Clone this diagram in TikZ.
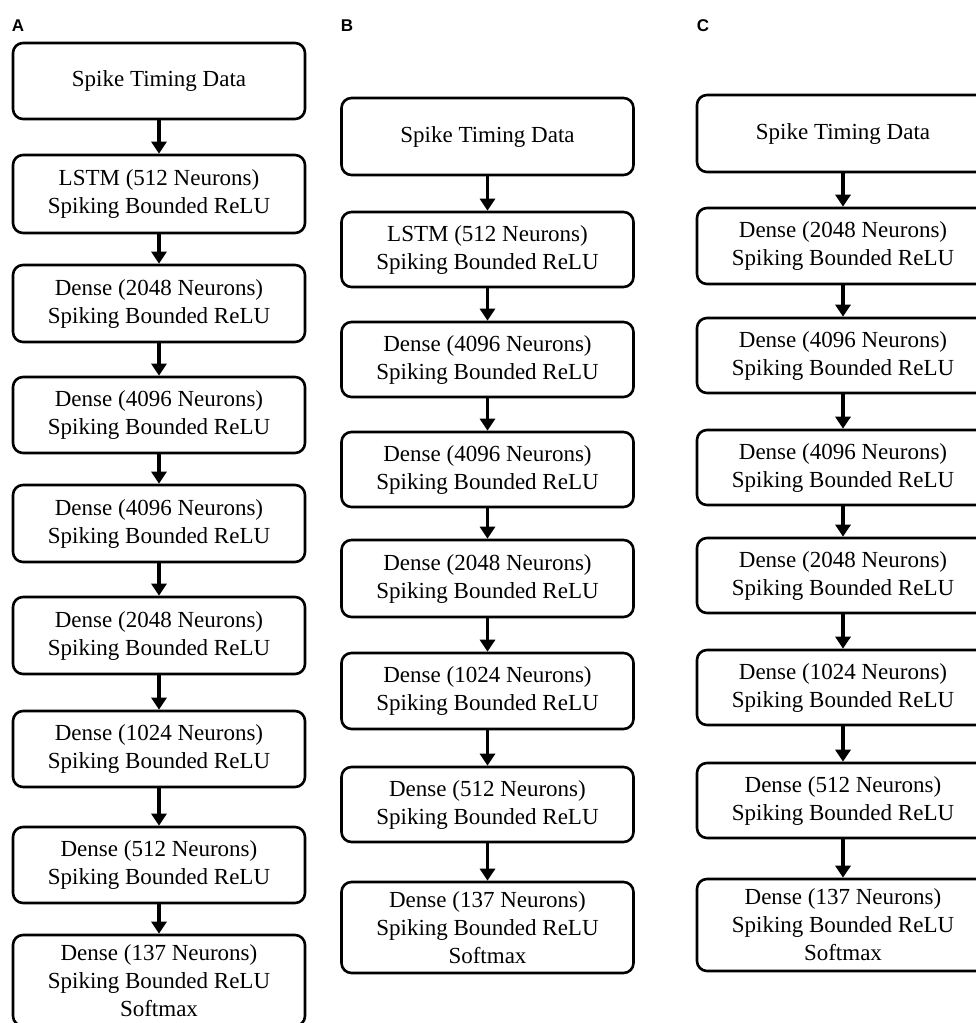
\documentclass[tikz,border=0pt]{standalone}
\usepackage{fontspec}
\setmainfont{Liberation Serif}
\newfontfamily\labelfont{Liberation Sans}
\usetikzlibrary{arrows.meta}
\tikzset{
  layer/.style={draw, line width=2.6pt, rounded corners=10pt, minimum width=292pt,
    align=center, inner sep=0pt, font=\fontsize{23}{28}\selectfont, fill=white},
  flow/.style={line width=3.4pt, -{Triangle[width=15pt,length=12pt]}},
  panel/.style={font=\labelfont\bfseries\fontsize{17}{20}\selectfont}
}
\begin{document}
\begin{tikzpicture}[x=1pt,y=-1pt]
\useasboundingbox (0,0) rectangle (976,1023);
% panel labels
\node[panel] (la) at (18,26) {A};
\node[panel] (lb) at (347,26) {B};
\node[panel] (lc) at (703,26) {C};
% column A
\node[layer, minimum height=76pt] (a1) at (159,81) {Spike Timing Data};
\node[layer, minimum height=78pt] (a2) at (159,194) {LSTM (512 Neurons)\\Spiking Bounded ReLU};
\node[layer, minimum height=77pt] (a3) at (159,303.5) {Dense (2048 Neurons)\\Spiking Bounded ReLU};
\node[layer, minimum height=76pt] (a4) at (159,415) {Dense (4096 Neurons)\\Spiking Bounded ReLU};
\node[layer, minimum height=77pt] (a5) at (159,523.5) {Dense (4096 Neurons)\\Spiking Bounded ReLU};
\node[layer, minimum height=77pt] (a6) at (159,635.5) {Dense (2048 Neurons)\\Spiking Bounded ReLU};
\node[layer, minimum height=76pt] (a7) at (159,749) {Dense (1024 Neurons)\\Spiking Bounded ReLU};
\node[layer, minimum height=76pt] (a8) at (159,865) {Dense (512 Neurons)\\Spiking Bounded ReLU};
\node[layer, minimum height=91pt] (a9) at (159,980.5) {Dense (137 Neurons)\\Spiking Bounded ReLU\\Softmax};
\foreach \i/\j in {a1/a2,a2/a3,a3/a4,a4/a5,a5/a6,a6/a7,a7/a8,a8/a9} \draw[flow] (\i) -- (\j);
% column B
\node[layer, minimum height=77pt] (b1) at (487.5,136.5) {Spike Timing Data};
\node[layer, minimum height=75pt] (b2) at (487.5,249.5) {LSTM (512 Neurons)\\Spiking Bounded ReLU};
\node[layer, minimum height=75pt] (b3) at (487.5,359.5) {Dense (4096 Neurons)\\Spiking Bounded ReLU};
\node[layer, minimum height=75pt] (b4) at (487.5,469.5) {Dense (4096 Neurons)\\Spiking Bounded ReLU};
\node[layer, minimum height=77pt] (b5) at (487.5,578.5) {Dense (2048 Neurons)\\Spiking Bounded ReLU};
\node[layer, minimum height=76pt] (b6) at (487.5,691) {Dense (1024 Neurons)\\Spiking Bounded ReLU};
\node[layer, minimum height=75pt] (b7) at (487.5,804.5) {Dense (512 Neurons)\\Spiking Bounded ReLU};
\node[layer, minimum height=91pt] (b8) at (487.5,927.5) {Dense (137 Neurons)\\Spiking Bounded ReLU\\Softmax};
\foreach \i/\j in {b1/b2,b2/b3,b3/b4,b4/b5,b5/b6,b6/b7,b7/b8} \draw[flow] (\i) -- (\j);
% column C
\node[layer, minimum height=77pt] (c1) at (843,133.5) {Spike Timing Data};
\node[layer, minimum height=76pt] (c2) at (843,246) {Dense (2048 Neurons)\\Spiking Bounded ReLU};
\node[layer, minimum height=75pt] (c3) at (843,355.5) {Dense (4096 Neurons)\\Spiking Bounded ReLU};
\node[layer, minimum height=75pt] (c4) at (843,467.5) {Dense (4096 Neurons)\\Spiking Bounded ReLU};
\node[layer, minimum height=75pt] (c5) at (843,575.5) {Dense (2048 Neurons)\\Spiking Bounded ReLU};
\node[layer, minimum height=75pt] (c6) at (843,687.5) {Dense (1024 Neurons)\\Spiking Bounded ReLU};
\node[layer, minimum height=75pt] (c7) at (843,800.5) {Dense (512 Neurons)\\Spiking Bounded ReLU};
\node[layer, minimum height=92pt] (c8) at (843,925) {Dense (137 Neurons)\\Spiking Bounded ReLU\\Softmax};
\foreach \i/\j in {c1/c2,c2/c3,c3/c4,c4/c5,c5/c6,c6/c7,c7/c8} \draw[flow] (\i) -- (\j);
\end{tikzpicture}
\end{document}
